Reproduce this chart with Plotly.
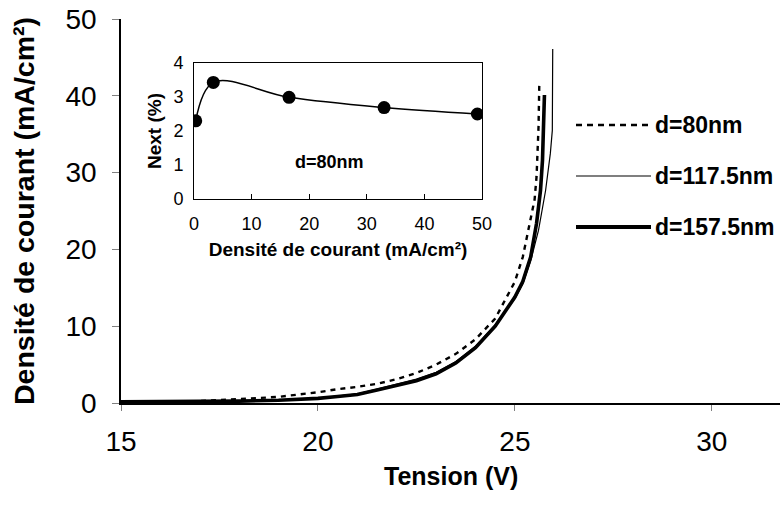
import plotly.graph_objects as go

# ---------------- data ----------------
# main chart: current density (mA/cm²) vs voltage (V)
v_80 = [15, 16, 17, 18, 19, 19.5, 20, 20.5, 21, 21.5, 22, 22.5, 23, 23.5, 24, 24.5,
        25, 25.2, 25.4, 25.5, 25.55, 25.6, 25.62]
j_80 = [0.2, 0.2, 0.25, 0.5, 0.8, 1.1, 1.4, 1.8, 2.1, 2.5, 3.1, 3.9, 5.0, 6.4, 8.3, 11.0,
        15.8, 19.0, 24.0, 26.5, 29.5, 36.0, 41.8]

v_117 = [15, 16, 17, 18, 19, 19.5, 20, 20.5, 21, 21.5, 22, 22.5, 23, 23.5, 24, 24.5,
         25, 25.2, 25.4, 25.6, 25.78, 25.9, 25.95, 25.96]
j_117 = [0.15, 0.15, 0.2, 0.25, 0.4, 0.5, 0.65, 0.9, 1.2, 1.8, 2.4, 3.1, 4.0, 5.4, 7.4, 10.2,
         13.6, 15.5, 18.5, 22.5, 27.7, 32.5, 35.5, 46.1]

v_157 = [15, 16, 17, 18, 19, 19.5, 20, 20.5, 21, 21.5, 22, 22.5, 23, 23.5, 24, 24.5,
         25, 25.2, 25.4, 25.55, 25.65, 25.7, 25.75]
j_157 = [0.15, 0.15, 0.2, 0.25, 0.35, 0.45, 0.6, 0.85, 1.1, 1.7, 2.3, 2.9, 3.8, 5.2, 7.2, 10.0,
         13.8, 15.8, 19.0, 23.4, 27.7, 31.6, 40.1]

series_names = ["d=80nm", "d=117.5nm", "d=157.5nm"]

# inset: external efficiency (%) vs current density (mA/cm²)
inset_j = [0.3, 3.35, 16.5, 33.0, 49.2]
inset_next = [2.3, 3.43, 2.99, 2.69, 2.5]
inset_label = "d=80nm"

x_ticks_main = [15, 20, 25, 30]
y_ticks_main = [0, 10, 20, 30, 40, 50]
x_ticks_inset = [0, 10, 20, 30, 40, 50]
y_ticks_inset = [0, 1, 2, 3, 4]

x_title = "Tension (V)"
y_title = "Densité de courant (mA/cm²)"

FONT = "Liberation Sans, Arial, sans-serif"

fig = go.Figure()

styles = [
    dict(color="black", width=2.4, dash="5px,5px"),
    dict(color="black", width=1.2),
    dict(color="black", width=3.6),
]
for name, xs, ys, st in zip(series_names, [v_80, v_117, v_157], [j_80, j_117, j_157], styles):
    fig.add_trace(go.Scatter(x=xs, y=ys, mode="lines", name=name, line=st,
                             showlegend=False, xaxis="x", yaxis="y"))

# inset trace
fig.add_trace(go.Scatter(x=inset_j, y=inset_next, mode="lines+markers",
                         line=dict(color="black", width=1.5, shape="spline", smoothing=1.0),
                         marker=dict(color="black", size=13),
                         showlegend=False, xaxis="x2", yaxis="y2"))

# custom legend (paper coords of main plot area)
px0, px1, py0, py1 = 121, 780, 19, 403
def pxx(p):
    return (p - px0) / (px1 - px0)
def pyy(p):
    return (py1 - p) / (py1 - py0)

leg_y = [125, 176, 227]
leg_styles = [
    dict(color="black", width=2.4, dash="6px,5px"),
    dict(color="black", width=1.2),
    dict(color="black", width=4),
]
for name, ly, st in zip(series_names, leg_y, leg_styles):
    fig.add_shape(type="line", xref="paper", yref="paper",
                  x0=pxx(576), x1=pxx(651), y0=pyy(ly), y1=pyy(ly), line=st)
    fig.add_annotation(xref="paper", yref="paper", x=pxx(653), y=pyy(ly),
                       text="<b>%s</b>" % name, showarrow=False,
                       xanchor="left", yanchor="middle",
                       font=dict(family=FONT, size=23, color="black"))

fig.add_annotation(xref="x2", yref="y2", x=23.6, y=1.1, text="<b>%s</b>" % inset_label,
                   showarrow=False, font=dict(family=FONT, size=18, color="black"))

# main x-axis title (placed as text under the tick labels)
fig.add_annotation(xref="paper", yref="paper", x=0.5, y=pyy(476), text="<b>%s</b>" % x_title,
                   showarrow=False, xanchor="center", yanchor="middle",
                   font=dict(family=FONT, size=25, color="black"))

fig.update_layout(
    width=780, height=512,
    margin=dict(l=121, r=0, t=19, b=109),
    paper_bgcolor="white", plot_bgcolor="white",
    font=dict(family=FONT, color="black"),
    xaxis=dict(domain=[0, 1], range=[15, 31.73], tickvals=x_ticks_main, automargin=False,
               showline=True, linecolor="black", linewidth=2,
               ticks="outside", ticklen=6, tickcolor="#808080", tickwidth=1,
               ticklabelstandoff=6,
               showgrid=False, zeroline=False,
               tickfont=dict(family=FONT, size=28)),
    yaxis=dict(domain=[0, 1], range=[0, 50], tickvals=y_ticks_main, automargin=False,
               showline=True, linecolor="black", linewidth=1.5,
               ticks="outside", ticklen=7, tickcolor="#808080", tickwidth=1,
               ticklabelstandoff=10,
               showgrid=False, zeroline=False,
               tickfont=dict(family=FONT, size=28),
               title=dict(text="<b>%s</b>" % y_title, font=dict(family=FONT, size=28.5), standoff=23)),
    xaxis2=dict(domain=[pxx(194), pxx(482)], anchor="y2", range=[0, 50], tickvals=x_ticks_inset,
                automargin=False,
                showline=True, mirror=True, linecolor="black", linewidth=1,
                ticks="inside", ticklen=5, tickcolor="black",
                ticklabelstandoff=8,
                showgrid=False, zeroline=False,
                tickfont=dict(family=FONT, size=18),
                title=dict(text="<b>Densité de courant (mA/cm²)</b>", font=dict(family=FONT, size=19), standoff=10)),
    yaxis2=dict(domain=[pyy(199), pyy(63)], anchor="x2", range=[0, 4], tickvals=y_ticks_inset,
                automargin=False,
                showline=True, mirror=True, linecolor="black", linewidth=1,
                ticks="", ticklabelstandoff=6, showgrid=False, zeroline=False,
                tickfont=dict(family=FONT, size=18),
                title=dict(text="<b>Next (%)</b>", font=dict(family=FONT, size=19), standoff=6)),
)

fig.write_html("out.html", config={"displayModeBar": False},
               post_script="document.body.style.margin='0';document.body.style.overflow='hidden';")
